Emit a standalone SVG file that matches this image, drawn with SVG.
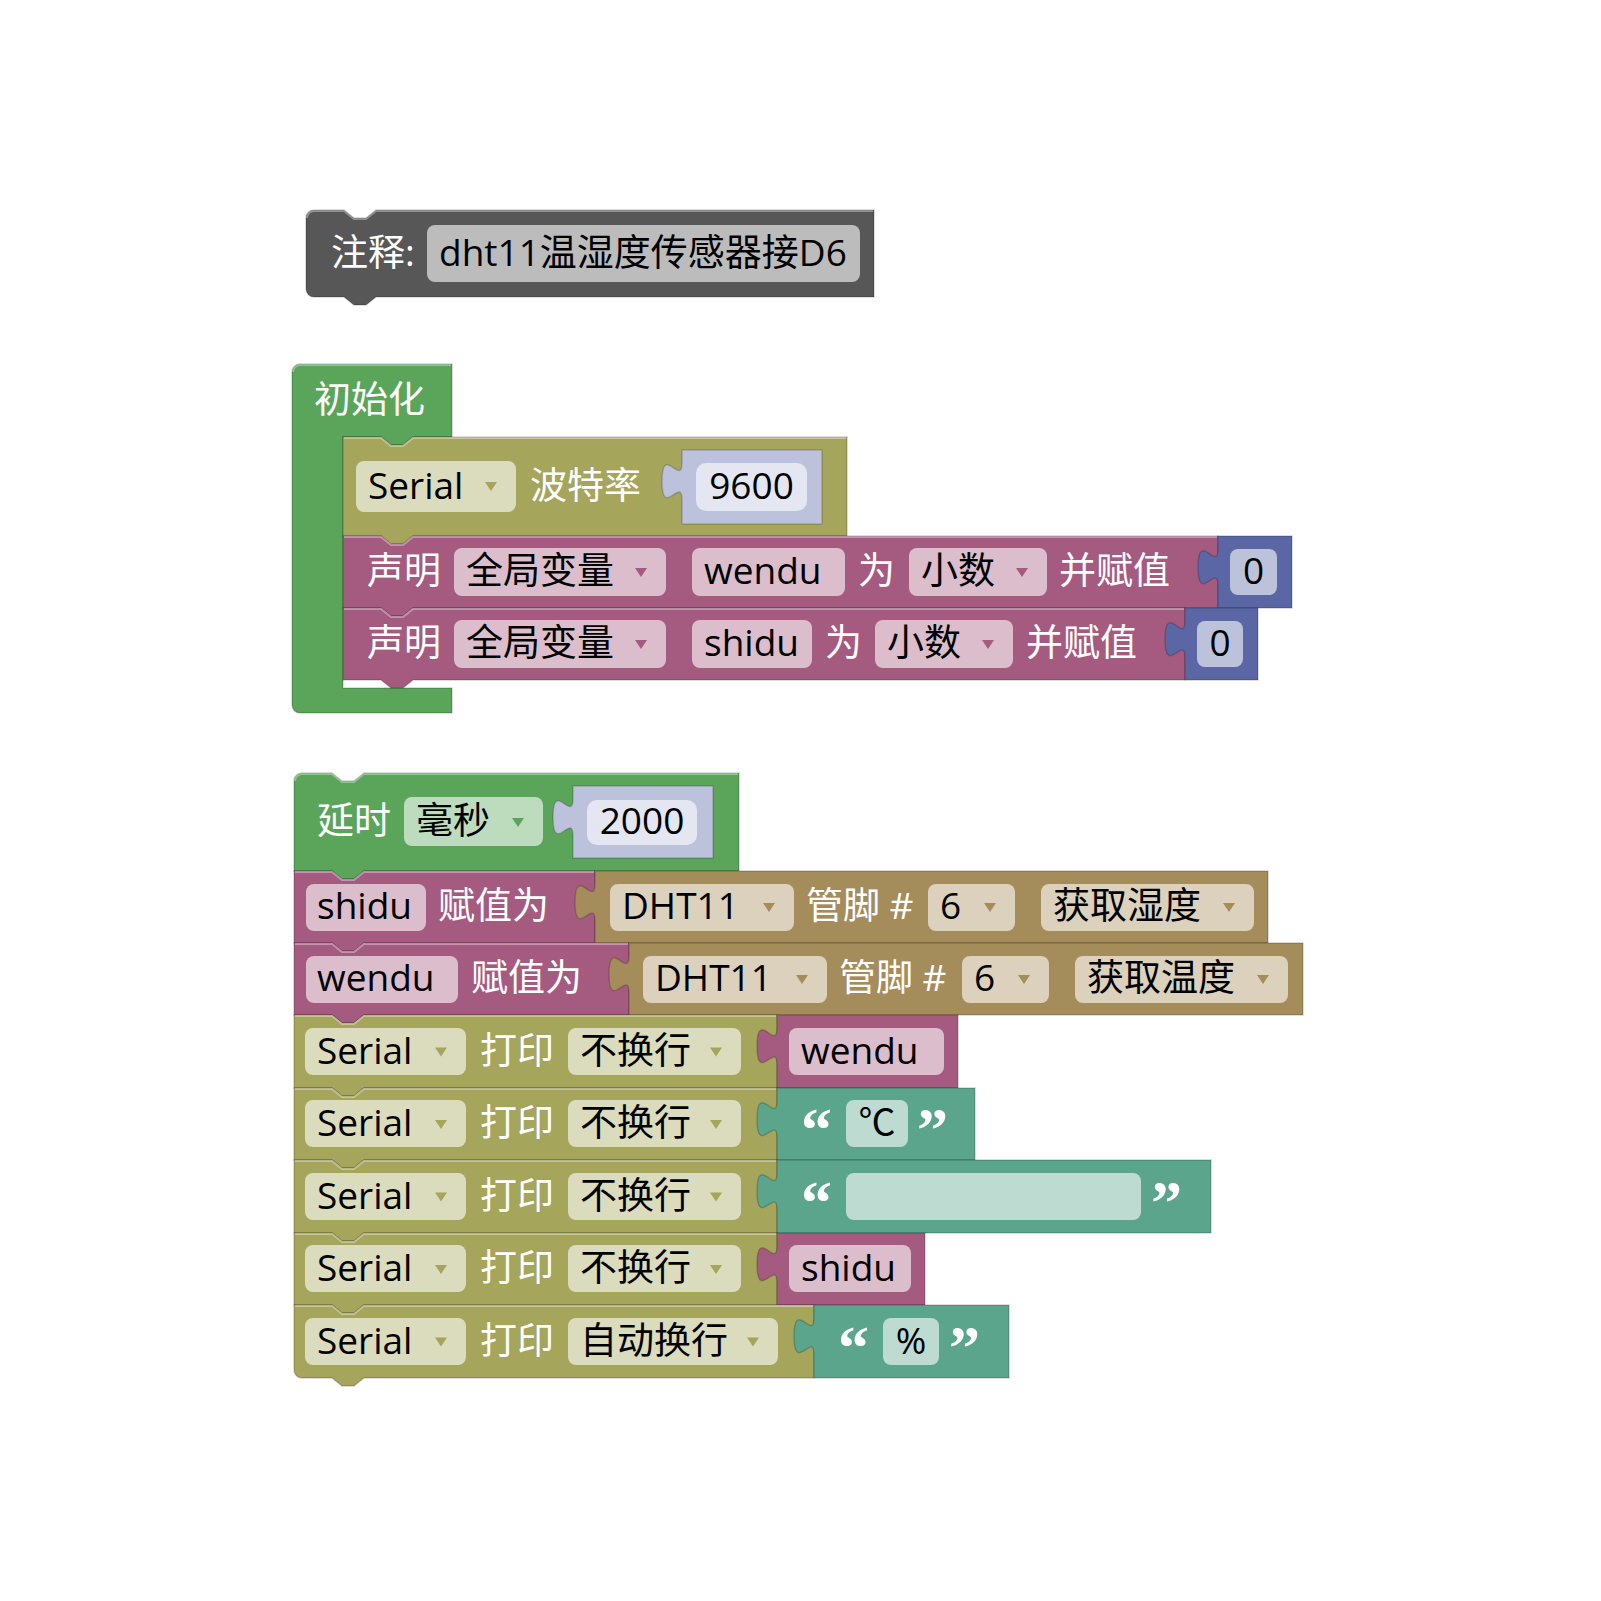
<svg xmlns="http://www.w3.org/2000/svg" xmlns:xlink="http://www.w3.org/1999/xlink" width="1601" height="1601" viewBox="0 0 1601 1601">
<style>
.t{font-family:"Open Sans","Noto Sans CJK SC",sans-serif;font-size:37px}
.w{fill:#fff}
.k{fill:#000}
.c{text-anchor:middle}
.f{fill:#fff;fill-opacity:.6}
.q{font-family:"Liberation Serif",serif;font-weight:bold;font-size:62px;fill:#fff}
.b{stroke:#000;stroke-opacity:.18;stroke-width:1.5}
.hl{fill:none;stroke:#fff;stroke-opacity:.35;stroke-width:2}
.grey{fill:#575757}
.green{fill:#5BA55B}
.olive{fill:#A5A55B}
.mag{fill:#A55B80}
.blue{fill:#5B67A5}
.lav{fill:#BCC2DB}
.teal{fill:#5BA58C}
.brown{fill:#A58C5B}
</style>
<defs>
<path id="arr" d="M-6,-4h12l-6,9z"/>
</defs>
<rect width="1601" height="1601" fill="#fff"/>

<g id="comment">
<path class="grey b" d="M306,218a8,8 0 0 1 8,-8H344l10,8h12l10,-8H874V297H376l-10,8h-12l-10,-8H314a8,8 0 0 1 -8,-8Z"/>
<path class="hl" d="M307,218a7,7 0 0 1 7,-7H344l10,8h12l10,-8H873"/>
<text class="t w" x="331" y="266">注释:</text>
<rect class="f" x="427" y="225" width="433" height="57" rx="8"/>
<text class="t k" x="439" y="266">dht11温湿度传感器接D6</text>
</g>

<g id="setup">
<path class="green b" d="M292,372a8,8 0 0 1 8,-8H452V437H413l-10,8h-12l-10,-8H343V688H452V713H300a8,8 0 0 1 -8,-8Z"/>
<path class="hl" d="M293,372a7,7 0 0 1 7,-7H451"/>
<text class="t w" x="314" y="413">初始化</text>
</g>

<g id="serial_begin">
<path class="olive b" d="M343,437H381l10,8h12l10,-8H847V536H413l-10,8h-12l-10,-8H343Z"/>
<path class="hl" d="M344,438H381l10,8h12l10,-8H846"/>
<rect class="f" x="356" y="461" width="160" height="51" rx="8"/>
<text class="t k" x="368" y="499">Serial</text>
<use xlink:href="#arr" x="491" y="486" class="olive"/>
<text class="t w" x="530" y="499">波特率</text>
</g>
<g id="num_9600">
<path class="lav b" d="M682,450V462.5c0,25 -20,-20 -20,18.75s20,-6.25 20,18.75V524H822V450Z"/>
<rect class="f" x="696" y="463" width="111" height="48" rx="10"/>
<text class="t k c" x="751.5" y="499">9600</text>
</g>

<g id="declare_wendu">
<path class="mag b" d="M343,536H381l10,8h12l10,-8H1218V608H413l-10,8h-12l-10,-8H343Z"/>
<path class="hl" d="M344,537H381l10,8h12l10,-8H1217"/>
<text class="t w" x="367" y="584">声明</text>
<rect class="f" x="454" y="548" width="212" height="48" rx="8"/>
<text class="t k" x="466" y="584">全局变量</text>
<use xlink:href="#arr" x="641" y="572" class="mag"/>
<rect class="f" x="692" y="548" width="153" height="48" rx="8"/>
<text class="t k" x="704" y="584">wendu</text>
<text class="t w" x="858" y="584">为</text>
<rect class="f" x="909" y="548" width="138" height="48" rx="8"/>
<text class="t k" x="921" y="584">小数</text>
<use xlink:href="#arr" x="1022" y="572" class="mag"/>
<text class="t w" x="1059" y="584">并赋值</text>
</g>
<g id="num_0_a">
<path class="blue b" d="M1218,536V548.5c0,25 -20,-20 -20,18.75s20,-6.25 20,18.75V608H1292V536Z"/>
<rect class="f" x="1230" y="549" width="47" height="46" rx="8"/>
<text class="t k c" x="1253.5" y="584">0</text>
</g>

<g id="declare_shidu">
<path class="mag b" d="M343,608H381l10,8h12l10,-8H1185V680H413l-10,8h-12l-10,-8H343Z"/>
<path class="hl" d="M344,609H381l10,8h12l10,-8H1184"/>
<text class="t w" x="367" y="656">声明</text>
<rect class="f" x="454" y="620" width="212" height="48" rx="8"/>
<text class="t k" x="466" y="656">全局变量</text>
<use xlink:href="#arr" x="641" y="644" class="mag"/>
<rect class="f" x="692" y="620" width="120" height="48" rx="8"/>
<text class="t k" x="704" y="656">shidu</text>
<text class="t w" x="825" y="656">为</text>
<rect class="f" x="875" y="620" width="138" height="48" rx="8"/>
<text class="t k" x="887" y="656">小数</text>
<use xlink:href="#arr" x="988" y="644" class="mag"/>
<text class="t w" x="1026" y="656">并赋值</text>
</g>
<g id="num_0_b">
<path class="blue b" d="M1185,608V620.5c0,25 -20,-20 -20,18.75s20,-6.25 20,18.75V680H1258V608Z"/>
<rect class="f" x="1197" y="621" width="46" height="46" rx="8"/>
<text class="t k c" x="1220" y="656">0</text>
</g>

<g id="delay">
<path class="green b" d="M294,781a8,8 0 0 1 8,-8H332l10,8h12l10,-8H739V871H364l-10,8h-12l-10,-8H294Z"/>
<path class="hl" d="M295,781a7,7 0 0 1 7,-7H332l10,8h12l10,-8H738"/>
<text class="t w" x="317" y="834">延时</text>
<rect class="f" x="404" y="797" width="139" height="49" rx="8"/>
<text class="t k" x="416" y="834">毫秒</text>
<use xlink:href="#arr" x="518" y="822" class="green"/>
</g>
<g id="num_2000">
<path class="lav b" d="M573,786V798.5c0,25 -20,-20 -20,18.75s20,-6.25 20,18.75V858H713V786Z"/>
<rect class="f" x="587" y="800" width="110" height="45" rx="10"/>
<text class="t k c" x="642" y="834">2000</text>
</g>

<g id="assign_shidu">
<path class="mag b" d="M294,871H332l10,8h12l10,-8H595V943H364l-10,8h-12l-10,-8H294Z"/>
<path class="hl" d="M295,872H332l10,8h12l10,-8H594"/>
<rect class="f" x="306" y="884" width="120" height="47" rx="8"/>
<text class="t k" x="317" y="919">shidu</text>
<text class="t w" x="438" y="919">赋值为</text>
</g>
<g id="dht_humidity">
<path class="brown b" d="M595,871V883.5c0,25 -20,-20 -20,18.75s20,-6.25 20,18.75V943H1268V871Z"/>
<rect class="f" x="610" y="884" width="184" height="47" rx="8"/>
<text class="t k" x="622" y="919">DHT11</text>
<use xlink:href="#arr" x="769" y="907" class="brown"/>
<text class="t w" x="806" y="919">管脚 #</text>
<rect class="f" x="928" y="884" width="87" height="47" rx="8"/>
<text class="t k" x="940" y="919">6</text>
<use xlink:href="#arr" x="990" y="907" class="brown"/>
<rect class="f" x="1041" y="884" width="213" height="47" rx="8"/>
<text class="t k" x="1053" y="919">获取湿度</text>
<use xlink:href="#arr" x="1229" y="907" class="brown"/>
</g>

<g id="assign_wendu">
<path class="mag b" d="M294,943H332l10,8h12l10,-8H629V1015H364l-10,8h-12l-10,-8H294Z"/>
<path class="hl" d="M295,944H332l10,8h12l10,-8H628"/>
<rect class="f" x="306" y="956" width="152" height="47" rx="8"/>
<text class="t k" x="317" y="991">wendu</text>
<text class="t w" x="471" y="991">赋值为</text>
</g>
<g id="dht_temperature">
<path class="brown b" d="M629,943V955.5c0,25 -20,-20 -20,18.75s20,-6.25 20,18.75V1015H1303V943Z"/>
<rect class="f" x="643" y="956" width="184" height="47" rx="8"/>
<text class="t k" x="655" y="991">DHT11</text>
<use xlink:href="#arr" x="802" y="979" class="brown"/>
<text class="t w" x="839" y="991">管脚 #</text>
<rect class="f" x="962" y="956" width="87" height="47" rx="8"/>
<text class="t k" x="974" y="991">6</text>
<use xlink:href="#arr" x="1024" y="979" class="brown"/>
<rect class="f" x="1075" y="956" width="213" height="47" rx="8"/>
<text class="t k" x="1087" y="991">获取温度</text>
<use xlink:href="#arr" x="1263" y="979" class="brown"/>
</g>

<g id="print_1">
<path class="olive b" d="M294,1015H332l10,8h12l10,-8H777V1088H364l-10,8h-12l-10,-8H294Z"/>
<path class="hl" d="M295,1016H332l10,8h12l10,-8H776"/>
<rect class="f" x="305" y="1028" width="161" height="47" rx="8"/>
<text class="t k" x="317" y="1063.5">Serial</text>
<use xlink:href="#arr" x="441" y="1051.5" class="olive"/>
<text class="t w" x="480" y="1063.5">打印</text>
<rect class="f" x="568" y="1028" width="173" height="47" rx="8"/>
<text class="t k" x="580" y="1063.5">不换行</text>
<use xlink:href="#arr" x="716" y="1051.5" class="olive"/>
</g>
<g id="var_wendu">
<path class="mag b" d="M777,1015V1027.5c0,25 -20,-20 -20,18.75s20,-6.25 20,18.75V1088H958V1015Z"/>
<rect class="f" x="789" y="1028" width="155" height="47" rx="8"/>
<text class="t k" x="801" y="1063.5">wendu</text>
</g>

<g id="print_2">
<path class="olive b" d="M294,1088H332l10,8h12l10,-8H777V1160H364l-10,8h-12l-10,-8H294Z"/>
<path class="hl" d="M295,1089H332l10,8h12l10,-8H776"/>
<rect class="f" x="305" y="1100" width="161" height="47" rx="8"/>
<text class="t k" x="317" y="1136">Serial</text>
<use xlink:href="#arr" x="441" y="1124" class="olive"/>
<text class="t w" x="480" y="1136">打印</text>
<rect class="f" x="568" y="1100" width="173" height="47" rx="8"/>
<text class="t k" x="580" y="1136">不换行</text>
<use xlink:href="#arr" x="716" y="1124" class="olive"/>
</g>
<g id="text_celsius">
<path class="teal b" d="M777,1088V1100.5c0,25 -20,-20 -20,18.75s20,-6.25 20,18.75V1160H975V1088Z"/>
<text class="q" x="801" y="1150">“</text>
<rect class="f" x="846" y="1100" width="62" height="47" rx="8"/>
<text class="t k c" x="877" y="1136">℃</text>
<text class="q" x="917" y="1150">”</text>
</g>

<g id="print_3">
<path class="olive b" d="M294,1160H332l10,8h12l10,-8H777V1233H364l-10,8h-12l-10,-8H294Z"/>
<path class="hl" d="M295,1161H332l10,8h12l10,-8H776"/>
<rect class="f" x="305" y="1173" width="161" height="47" rx="8"/>
<text class="t k" x="317" y="1208.5">Serial</text>
<use xlink:href="#arr" x="441" y="1196.5" class="olive"/>
<text class="t w" x="480" y="1208.5">打印</text>
<rect class="f" x="568" y="1173" width="173" height="47" rx="8"/>
<text class="t k" x="580" y="1208.5">不换行</text>
<use xlink:href="#arr" x="716" y="1196.5" class="olive"/>
</g>
<g id="text_space">
<path class="teal b" d="M777,1160V1172.5c0,25 -20,-20 -20,18.75s20,-6.25 20,18.75V1233H1211V1160Z"/>
<text class="q" x="801" y="1222.5">“</text>
<rect class="f" x="846" y="1173" width="295" height="47" rx="8"/>
<text class="q" x="1151" y="1222.5">”</text>
</g>

<g id="print_4">
<path class="olive b" d="M294,1233H332l10,8h12l10,-8H777V1305H364l-10,8h-12l-10,-8H294Z"/>
<path class="hl" d="M295,1234H332l10,8h12l10,-8H776"/>
<rect class="f" x="305" y="1245" width="161" height="47" rx="8"/>
<text class="t k" x="317" y="1281">Serial</text>
<use xlink:href="#arr" x="441" y="1269" class="olive"/>
<text class="t w" x="480" y="1281">打印</text>
<rect class="f" x="568" y="1245" width="173" height="47" rx="8"/>
<text class="t k" x="580" y="1281">不换行</text>
<use xlink:href="#arr" x="716" y="1269" class="olive"/>
</g>
<g id="var_shidu">
<path class="mag b" d="M777,1233V1245.5c0,25 -20,-20 -20,18.75s20,-6.25 20,18.75V1305H925V1233Z"/>
<rect class="f" x="789" y="1245" width="122" height="47" rx="8"/>
<text class="t k" x="801" y="1281">shidu</text>
</g>

<g id="print_5">
<path class="olive b" d="M294,1305H332l10,8h12l10,-8H814V1378H364l-10,8h-12l-10,-8H302a8,8 0 0 1 -8,-8Z"/>
<path class="hl" d="M295,1306H332l10,8h12l10,-8H813"/>
<rect class="f" x="305" y="1318" width="161" height="47" rx="8"/>
<text class="t k" x="317" y="1353.5">Serial</text>
<use xlink:href="#arr" x="441" y="1341.5" class="olive"/>
<text class="t w" x="480" y="1353.5">打印</text>
<rect class="f" x="568" y="1318" width="210" height="47" rx="8"/>
<text class="t k" x="580" y="1353.5">自动换行</text>
<use xlink:href="#arr" x="753" y="1341.5" class="olive"/>
</g>
<g id="text_percent">
<path class="teal b" d="M814,1305V1317.5c0,25 -20,-20 -20,18.75s20,-6.25 20,18.75V1378H1009V1305Z"/>
<text class="q" x="838" y="1367.5">“</text>
<rect class="f" x="883" y="1318" width="56" height="47" rx="8"/>
<text class="t k c" x="911" y="1353.5">%</text>
<text class="q" x="949" y="1367.5">”</text>
</g>

<g id="connectors"></g>
</svg>
